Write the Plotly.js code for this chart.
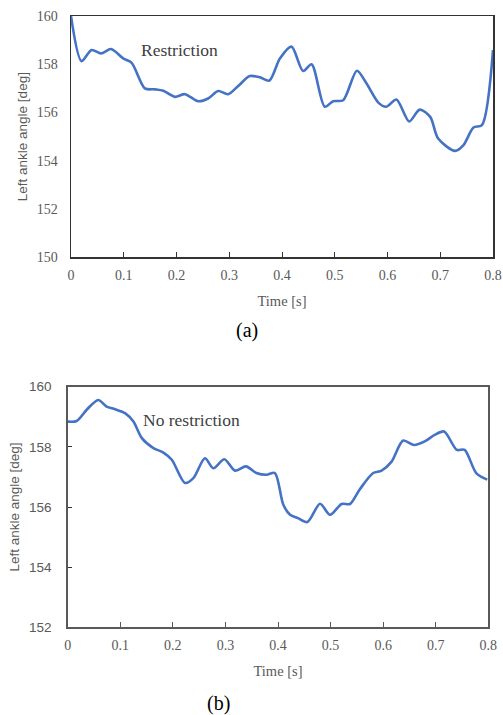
<!DOCTYPE html>
<html>
<head>
<meta charset="utf-8">
<script src="https://cdn.plot.ly/plotly-3.0.1.min.js"></script>
<style>html,body{margin:0;padding:0;background:#fff;}#chart{width:503px;height:715px;}</style>
</head>
<body>
<div id="chart"></div>
<script>
// (a) Restriction
const timeA = [0, 0.020, 0.039, 0.057, 0.076, 0.099, 0.115, 0.140, 0.159, 0.175, 0.197, 0.216, 0.241, 0.260, 0.279, 0.298, 0.317, 0.339, 0.358, 0.376, 0.396, 0.418, 0.440, 0.456, 0.481, 0.497, 0.516, 0.542, 0.560, 0.583, 0.598, 0.617, 0.641, 0.661, 0.681, 0.696, 0.728, 0.744, 0.763, 0.779, 0.800];
const angleA = [160.0, 158.13, 158.59, 158.45, 158.63, 158.24, 158.06, 157.0, 156.96, 156.90, 156.65, 156.76, 156.47, 156.58, 156.89, 156.76, 157.10, 157.51, 157.46, 157.32, 158.24, 158.73, 157.72, 158.0, 156.24, 156.47, 156.51, 157.73, 157.21, 156.40, 156.24, 156.54, 155.63, 156.12, 155.82, 154.92, 154.41, 154.65, 155.38, 155.48, 158.59];
// (b) No restriction
const timeB = [0, 0.017, 0.037, 0.058, 0.074, 0.090, 0.109, 0.125, 0.141, 0.163, 0.182, 0.198, 0.223, 0.239, 0.261, 0.277, 0.298, 0.318, 0.339, 0.359, 0.378, 0.394, 0.410, 0.423, 0.438, 0.456, 0.480, 0.499, 0.521, 0.537, 0.556, 0.581, 0.597, 0.616, 0.638, 0.659, 0.679, 0.698, 0.716, 0.740, 0.755, 0.777, 0.798];
const angleB = [158.84, 158.86, 159.25, 159.56, 159.34, 159.25, 159.12, 158.84, 158.29, 157.96, 157.81, 157.57, 156.80, 156.96, 157.62, 157.29, 157.59, 157.21, 157.35, 157.13, 157.07, 157.13, 156.08, 155.74, 155.63, 155.50, 156.11, 155.74, 156.10, 156.10, 156.60, 157.13, 157.21, 157.51, 158.21, 158.06, 158.18, 158.40, 158.51, 157.90, 157.90, 157.13, 156.91];
const xTicks = [0, 0.1, 0.2, 0.3, 0.4, 0.5, 0.6, 0.7, 0.8];
const yTicksA = [150, 152, 154, 156, 158, 160];
const yTicksB = [152, 154, 156, 158, 160];
const labelA = "Restriction";
const labelB = "No restriction";
const yTitle = "Left ankle angle [deg]";
const xTitle = "Time [s]";

const serif = "Liberation Serif, Times New Roman, serif";
const sans = "Liberation Sans, Arial, sans-serif";
const gray = "#595959";
const blue = "#4472C4";

const traces = [
  {x: timeA, y: angleA, type: 'scatter', mode: 'lines', line: {color: blue, width: 2.6, shape: 'spline', smoothing: 0.8}, xaxis: 'x', yaxis: 'y', hoverinfo: 'skip'},
  {x: timeB, y: angleB, type: 'scatter', mode: 'lines', line: {color: blue, width: 2.6, shape: 'spline', smoothing: 0.8}, xaxis: 'x2', yaxis: 'y2', hoverinfo: 'skip'}
];

const layout = {
  width: 503, height: 715,
  margin: {l: 0, r: 0, t: 0, b: 0},
  paper_bgcolor: '#fff', plot_bgcolor: '#fff',
  showlegend: false,
  xaxis: {
    domain: [71/503, 493/503], anchor: 'y', range: [0, 0.8], tickvals: xTicks,
    ticktext: xTicks.map(String),
    showgrid: false, zeroline: false, showline: true, mirror: true, linecolor: '#333', linewidth: 1.5,
    ticks: 'inside', ticklen: 5, tickcolor: '#333',
    tickfont: {family: serif, size: 14, color: gray}, ticklabelstandoff: 4,
    title: {text: xTitle, font: {family: serif, size: 14.5, color: gray}, standoff: 14}
  },
  yaxis: {
    domain: [1 - 257.3/715, 1 - 16/715], anchor: 'x', range: [150, 160], tickvals: yTicksA,
    showgrid: false, zeroline: false, showline: true, mirror: true, linecolor: '#333', linewidth: 1.5,
    ticks: '', tickfont: {family: serif, size: 14, color: gray}, ticklabelstandoff: 9,
    title: {text: yTitle, font: {family: sans, size: 13.5, color: gray}, standoff: 6}
  },
  xaxis2: {
    domain: [67.7/503, 488.3/503], anchor: 'y2', range: [0, 0.8], tickvals: xTicks,
    ticktext: xTicks.map(String),
    showgrid: false, zeroline: false, showline: true, mirror: true, linecolor: gray, linewidth: 1.5,
    ticks: 'inside', ticklen: 5, tickcolor: gray,
    tickfont: {family: serif, size: 14, color: gray}, ticklabelstandoff: 4,
    title: {text: xTitle, font: {family: serif, size: 14.5, color: gray}, standoff: 14}
  },
  yaxis2: {
    domain: [1 - 627.3/715, 1 - 386.7/715], anchor: 'x2', range: [152, 160], tickvals: yTicksB,
    showgrid: false, zeroline: false, showline: true, mirror: true, linecolor: gray, linewidth: 1.5,
    ticks: 'inside', ticklen: 4, tickcolor: '#333',
    tickfont: {family: sans, size: 13.5, color: gray}, ticklabelstandoff: 12,
    title: {text: yTitle, font: {family: sans, size: 13.5, color: gray}, standoff: 6}
  },
  annotations: [
    {xref: 'x', yref: 'y', x: 0.129, y: 158.6, text: labelA, showarrow: false, xanchor: 'left', yanchor: 'middle', font: {family: serif, size: 17.5, color: '#404040'}},
    {xref: 'x2', yref: 'y2', x: 0.140, y: 158.9, text: labelB, showarrow: false, xanchor: 'left', yanchor: 'middle', font: {family: serif, size: 17.5, color: '#404040'}},
    {xref: 'paper', yref: 'paper', x: 247/503, y: 1 - 330/715, text: '(a)', showarrow: false, xanchor: 'center', yanchor: 'middle', font: {family: serif, size: 20, color: '#000'}},
    {xref: 'paper', yref: 'paper', x: 218/503, y: 1 - 703/715, text: '(b)', showarrow: false, xanchor: 'center', yanchor: 'middle', font: {family: serif, size: 20, color: '#000'}}
  ]
};

Plotly.newPlot('chart', traces, layout, {staticPlot: true, displayModeBar: false});
</script>
</body>
</html>
